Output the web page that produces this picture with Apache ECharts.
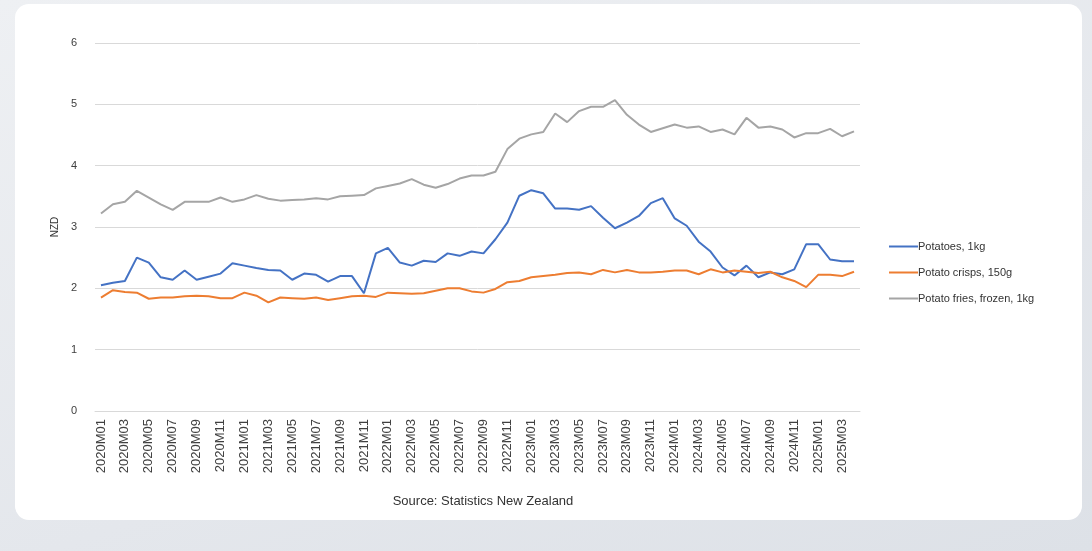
<!DOCTYPE html>
<html>
<head>
<meta charset="utf-8">
<script src="https://cdn.jsdelivr.net/npm/echarts@6/dist/echarts.min.js"></script>
<style>
  html, body { margin: 0; padding: 0; width: 1092px; height: 551px; overflow: hidden;
    background: linear-gradient(160deg, #eef0f3 0%, #e4e7ec 60%, #dde1e7 100%); font-family: "Liberation Sans", Arial, sans-serif; }
  #card { position: absolute; left: 15px; top: 4px; width: 1067px; height: 516px; background: #ffffff; border-radius: 14px; }
  #chart { position: absolute; left: 0; top: 0; width: 1092px; height: 551px; }
</style>
</head>
<body>
<div id="card"></div>
<div id="chart"></div>
<script>
// Categories: monthly, 2020M01 .. 2025M04
const categories = [
  "2020M01","2020M02","2020M03","2020M04","2020M05","2020M06","2020M07","2020M08","2020M09","2020M10","2020M11","2020M12",
  "2021M01","2021M02","2021M03","2021M04","2021M05","2021M06","2021M07","2021M08","2021M09","2021M10","2021M11","2021M12",
  "2022M01","2022M02","2022M03","2022M04","2022M05","2022M06","2022M07","2022M08","2022M09","2022M10","2022M11","2022M12",
  "2023M01","2023M02","2023M03","2023M04","2023M05","2023M06","2023M07","2023M08","2023M09","2023M10","2023M11","2023M12",
  "2024M01","2024M02","2024M03","2024M04","2024M05","2024M06","2024M07","2024M08","2024M09","2024M10","2024M11","2024M12",
  "2025M01","2025M02","2025M03","2025M04"
];

const potatoes1kg = [
  2.05,2.09,2.12,2.50,2.42,2.18,2.14,2.29,2.14,2.19,2.24,2.41,
  2.37,2.33,2.30,2.29,2.14,2.24,2.22,2.11,2.20,2.20,1.92,2.57,
  2.66,2.42,2.37,2.45,2.43,2.57,2.53,2.60,2.57,2.80,3.07,3.51,
  3.60,3.55,3.30,3.30,3.28,3.34,3.15,2.98,3.07,3.18,3.39,3.47,
  3.14,3.02,2.76,2.60,2.34,2.21,2.37,2.18,2.26,2.23,2.31,2.72,
  2.72,2.47,2.44,2.44
];

const potatoCrisps150g = [
  1.85,1.97,1.94,1.93,1.83,1.85,1.85,1.87,1.88,1.87,1.84,1.84,
  1.93,1.88,1.77,1.85,1.84,1.83,1.85,1.81,1.84,1.87,1.88,1.86,
  1.93,1.92,1.91,1.92,1.96,2.00,2.00,1.95,1.93,1.99,2.10,2.12,
  2.18,2.20,2.22,2.25,2.26,2.23,2.30,2.26,2.30,2.26,2.26,2.27,
  2.29,2.29,2.23,2.31,2.26,2.29,2.27,2.25,2.27,2.18,2.12,2.02,
  2.22,2.22,2.20,2.27
];

const potatoFriesFrozen1kg = [
  3.22,3.37,3.41,3.59,3.48,3.37,3.28,3.41,3.41,3.41,3.48,3.41,
  3.45,3.52,3.46,3.43,3.44,3.45,3.47,3.45,3.50,3.51,3.52,3.63,
  3.67,3.71,3.78,3.69,3.64,3.70,3.79,3.84,3.84,3.90,4.27,4.44,
  4.51,4.55,4.85,4.71,4.89,4.96,4.96,5.07,4.83,4.67,4.55,4.61,
  4.67,4.62,4.64,4.55,4.59,4.51,4.78,4.62,4.64,4.59,4.46,4.53,
  4.53,4.60,4.48,4.56
];

const seriesNames = ["Potatoes, 1kg", "Potato crisps, 150g", "Potato fries, frozen, 1kg"];
const yTicks = { min: 0, max: 6, interval: 1 };
const yAxisName = "NZD";
const sourceNote = "Source: Statistics New Zealand";

const chart = echarts.init(document.getElementById('chart'), null, { renderer: 'canvas' });
const font = '"Liberation Sans", Arial, sans-serif';
chart.setOption({
  backgroundColor: 'transparent',
  animation: false,
  color: ['#4472C4', '#ED7D31', '#A5A5A5'],
  title: {
    text: sourceNote,
    left: 478, top: 490, textAlign: 'center',
    textStyle: { fontSize: 13, fontWeight: 'normal', color: '#333333', fontFamily: font }
  },
  legend: {
    orient: 'vertical',
    left: 884, top: 236,
    itemWidth: 29, itemHeight: 2, itemGap: 15,
    icon: 'rect',
    textStyle: { fontSize: 11, color: '#333333', fontFamily: font, padding: [0, 0, 0, -5] },
    data: seriesNames
  },
  grid: { left: 95, right: 232, top: 43, bottom: 140, containLabel: false },
  xAxis: {
    type: 'category',
    data: categories,
    boundaryGap: true,
    axisLine: { show: true, lineStyle: { color: '#d9d9d9', width: 1 } },
    axisTick: { show: false },
    axisLabel: { interval: 1, rotate: 90, fontSize: 13, color: '#404040', fontFamily: font, margin: 8 }
  },
  yAxis: {
    type: 'value',
    min: yTicks.min, max: yTicks.max, interval: yTicks.interval,
    name: yAxisName,
    nameLocation: 'middle',
    nameRotate: 90,
    nameGap: 32,
    nameTextStyle: { fontSize: 10, color: '#333333', fontFamily: font },
    axisLine: { show: false },
    axisTick: { show: false },
    axisLabel: { fontSize: 11, color: '#404040', fontFamily: font, margin: 18 },
    splitLine: { lineStyle: { color: '#d9d9d9', width: 1 } }
  },
  series: [
    { name: seriesNames[0], type: 'line', data: potatoes1kg, symbol: 'none', lineStyle: { width: 2 } },
    { name: seriesNames[1], type: 'line', data: potatoCrisps150g, symbol: 'none', lineStyle: { width: 2 } },
    { name: seriesNames[2], type: 'line', data: potatoFriesFrozen1kg, symbol: 'none', lineStyle: { width: 2 } }
  ]
});
</script>
</body>
</html>
